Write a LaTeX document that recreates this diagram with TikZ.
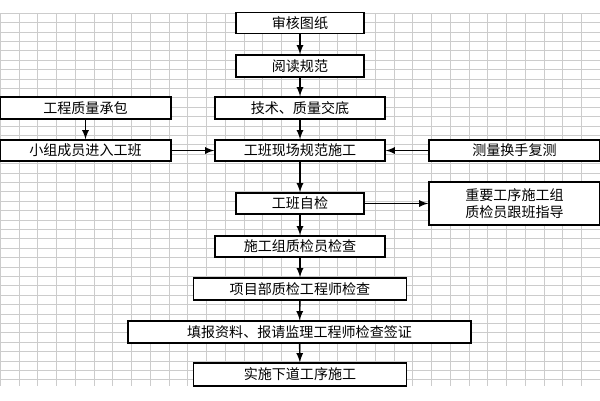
\documentclass[tikz,border=0pt]{standalone}
\usepackage{fontspec}
\setmainfont{Noto Sans CJK SC}
\usetikzlibrary{positioning}

\begin{document}
\begin{tikzpicture}[x=0.02cm, y=-0.02cm,
    box/.style={draw, thick, fill=white, inner sep=0pt, font=\fontsize{8}{10}\selectfont},
    flow/.style={thick, ->, >=latex}]

        % page size and the spreadsheet-like grid
        \useasboundingbox (0,0) rectangle (600,400);
        \fill[white] (0,0) rectangle (600,400);
        \foreach \x in {0,18.75,...,600}
		\draw[gray!40, very thin] (\x,13) -- (\x,386);
        \foreach \y in {13,22.4,...,387}
		\draw[gray!40, very thin] (0,\y) -- (600,\y);

        % nodes: name, centre, width, height, text
        \node[box, minimum width=2.56cm, minimum height=0.42cm] (audit) at (300,23) {审核图纸};
        \node[box, minimum width=2.56cm, minimum height=0.44cm] (read) at (300,66) {阅读规范};
        \node[box, minimum width=3.42cm, minimum height=0.44cm] (contract) at (85.5,108) {工程质量承包};
        \node[box, minimum width=3.4cm, minimum height=0.44cm] (brief) at (300,108) {技术、质量交底};
        \node[box, minimum width=3.42cm, minimum height=0.42cm] (member) at (85.5,150.5) {小组成员进入工班};
        \node[box, minimum width=3.4cm, minimum height=0.42cm] (work) at (300,150.5) {工班现场规范施工};
        \node[box, minimum width=3.42cm, minimum height=0.42cm] (survey) at (514.5,150.5) {测量换手复测};
        \node[box, minimum width=2.56cm, minimum height=0.42cm] (self) at (300,203.5) {工班自检};
        \node[box, minimum width=3.42cm, minimum height=0.86cm, align=center] (guide) at (514.5,203.5) {重要工序施工组\\质检员跟班指导};
        \node[box, minimum width=3.4cm, minimum height=0.42cm] (group) at (300,246.5) {施工组质检员检查};
        \node[box, minimum width=4.26cm, minimum height=0.44cm] (eng) at (300,289) {项目部质检工程师检查};
        \node[box, minimum width=6.86cm, minimum height=0.44cm] (report) at (299.5,332) {填报资料、报请监理工程师检查签证};
        \node[box, minimum width=4.26cm, minimum height=0.46cm] (next) at (300,374.5) {实施下道工序施工};

        % connectors
        \draw[flow] (audit) -- (read);
        \draw[flow] (read) -- (brief);
        \draw[flow] (brief) -- (work);
        \draw[flow] (contract) -- (member);
        \draw[flow] (member) -- (work);
        \draw[flow] (survey) -- (work);
        \draw[flow] (work) -- (self);
        \draw[flow] (self) -- (guide);
        \draw[flow] (self) -- (group);
        \draw[flow] (group) -- (eng);
        \draw[flow] (eng) -- (report);
        \draw[flow] (report) -- (next);

\end{tikzpicture}
\end{document}
